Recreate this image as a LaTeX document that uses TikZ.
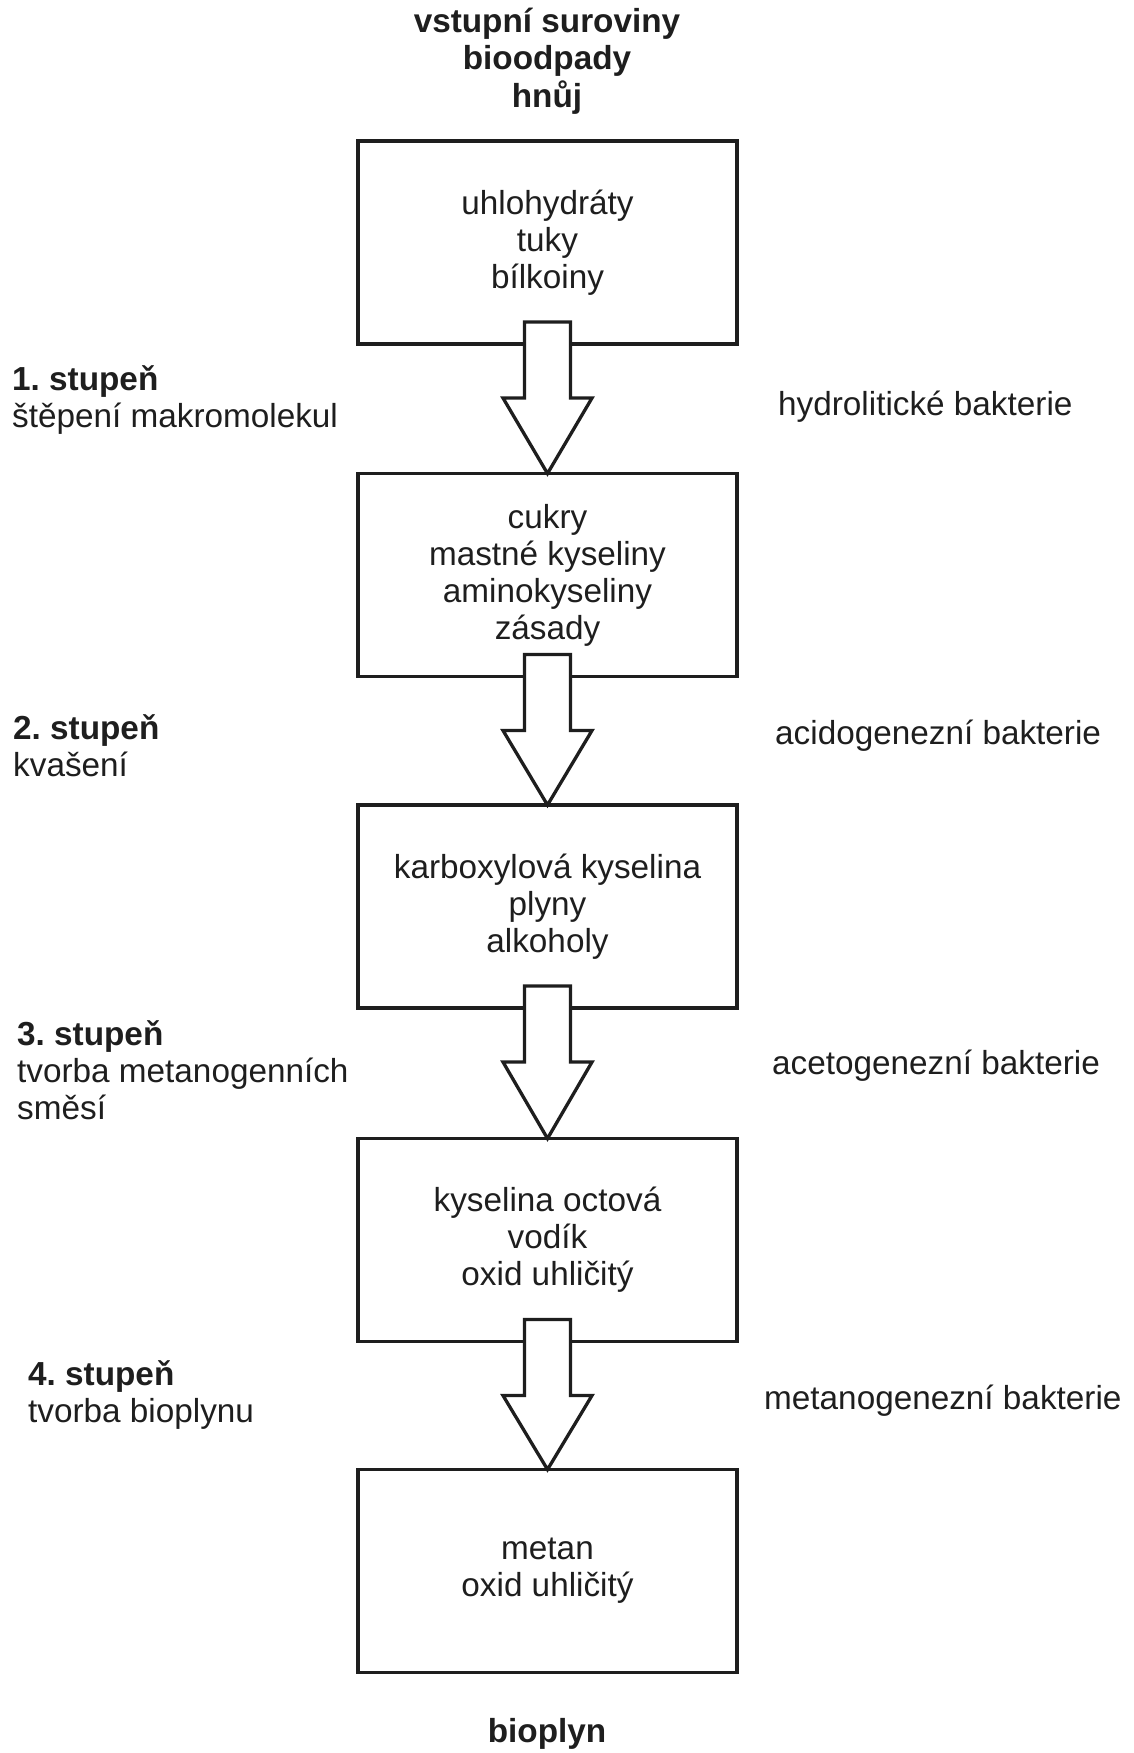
\documentclass[tikz,border=0pt]{standalone}
\usepackage{fontspec}
\setmainfont{Liberation Sans}
\usepackage{tikz}
\usetikzlibrary{positioning,calc}
\definecolor{inkgray}{RGB}{30,30,30}
\frenchspacing

\begin{document}
\begin{tikzpicture}[x=1pt, y=1pt,
    every node/.style={text=inkgray, font=\fontsize{33.3}{37}\selectfont},
    stagebox/.style={rectangle, draw=inkgray, line width=3.3pt, minimum width=379pt, minimum height=203pt, align=center, outer sep=0pt},
    title/.style={align=center, font=\fontsize{33.3}{37.5}\selectfont\bfseries},
    phase/.style={align=left, anchor=west, inner sep=0pt},
    microbe/.style={anchor=base west, inner sep=0pt},
    flowarrow/.style={draw=inkgray, fill=white, line width=3.3pt}]

    \useasboundingbox (0,0) rectangle (1133,-1753);

    % Input and output
    \node[title] (input) at (547,-61) {vstupní suroviny\\bioodpady\\hnůj};
    \node[title] (output) at (547,-1734) {bioplyn};

    % Main components
    \node[stagebox] (polymers) at (547.5,-242.5) {uhlohydráty\\tuky\\bílkoiny};
    \node[stagebox] (monomers) at (547.5,-575) {cukry\\mastné kyseliny\\aminokyseliny\\zásady};
    \node[stagebox] (acids) at (547.5,-906.5) {karboxylová kyselina\\plyny\\alkoholy};
    \node[stagebox] (acetate) at (547.5,-1240) {kyselina octová\\vodík\\oxid uhličitý};
    \node[stagebox] (biogas) at (547.5,-1571) {metan\\oxid uhličitý};

    % Stages
    \node[phase] (stage1) at (12,-400) {\textbf{1. stupeň}\\štěpení makromolekul};
    \node[phase] (stage2) at (13,-745.5) {\textbf{2. stupeň}\\kvašení};
    \node[phase] (stage3) at (17,-1070) {\textbf{3. stupeň}\\tvorba metanogenních\\směsí};
    \node[phase] (stage4) at (28,-1395) {\textbf{4. stupeň}\\tvorba bioplynu};

    % Bacteria
    \node[microbe] (hydro) at (778,-415) {hydrolitické bakterie};
    \node[microbe] (acido) at (775,-744) {acidogenezní bakterie};
    \node[microbe] (aceto) at (772,-1074) {acetogenezní bakterie};
    \node[microbe] (metha) at (764,-1409) {metanogenezní bakterie};

    % Connections
    \foreach \from/\to in {polymers/monomers, monomers/acids, acids/acetate, acetate/biogas}
        \draw[flowarrow] ($(\from.south)+(-23,22)$) -- ($(\from.south)+(-23,-54)$)
            -- ($(\from.south)+(-44.5,-54)$) -- (\to.north)
            -- ($(\from.south)+(44.5,-54)$) -- ($(\from.south)+(23,-54)$)
            -- ($(\from.south)+(23,22)$) -- cycle;
\end{tikzpicture}
\end{document}
